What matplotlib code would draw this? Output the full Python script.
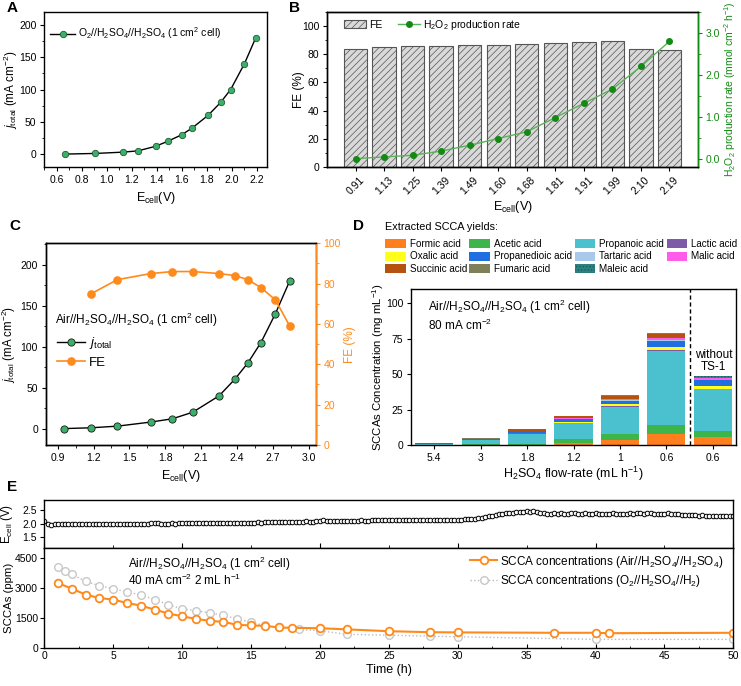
import matplotlib
matplotlib.use('Agg')
import matplotlib.pyplot as plt
import numpy as np
from matplotlib.ticker import MultipleLocator, FormatStrFormatter

plt.rcParams['font.family'] = ['Liberation Sans', 'DejaVu Sans']
plt.rcParams['mathtext.fontset'] = 'custom'
plt.rcParams['mathtext.rm'] = 'Liberation Sans'
plt.rcParams['mathtext.it'] = 'Liberation Sans:italic'
plt.rcParams['mathtext.bf'] = 'Liberation Sans:bold'
plt.rcParams['hatch.linewidth'] = 0.5
plt.rcParams['axes.linewidth'] = 1.0
plt.rcParams['xtick.labelsize'] = 7.5
plt.rcParams['ytick.labelsize'] = 7.5
plt.rcParams['axes.labelsize'] = 9
for ax_ in ('xtick', 'ytick'):
    plt.rcParams[ax_ + '.major.size'] = 3
    plt.rcParams[ax_ + '.minor.size'] = 1.8
    plt.rcParams[ax_ + '.major.pad'] = 2.5

# ---------------- data ----------------
# Panel A
a_ecell = [0.67, 0.91, 1.13, 1.25, 1.39, 1.49, 1.60, 1.68, 1.81, 1.91, 1.99, 2.10, 2.19]
a_j = [0, 1, 3, 5, 12, 20, 30, 40, 60, 80, 100, 140, 180]

# Panel B
b_cat = ['0.91', '1.13', '1.25', '1.39', '1.49', '1.60', '1.68', '1.81', '1.91', '1.99', '2.10', '2.19']
b_fe = [84, 85, 85.7, 85.7, 86.4, 86.5, 87.5, 87.8, 88.5, 89.2, 84, 83]
b_rate = [0.0, 0.04, 0.08, 0.18, 0.32, 0.48, 0.64, 0.98, 1.32, 1.66, 2.2, 2.8]

# Panel C
c_ecell = [0.95, 1.18, 1.40, 1.68, 1.86, 2.03, 2.25, 2.38, 2.49, 2.60, 2.72, 2.84]
c_j = [0, 1, 3, 8, 12, 20, 40, 60, 80, 105, 140, 180]
c_fe_ecell = [1.18, 1.40, 1.68, 1.86, 2.03, 2.25, 2.38, 2.49, 2.60, 2.72, 2.84]
c_fe = [75, 82, 85, 86, 86, 85, 84, 82, 78, 72, 59]

# Panel D
d_flow = ['5.4', '3', '1.8', '1.2', '1', '0.6', '0.6']
formic = [0.05, 0.2, 0.3, 1.2, 3.5, 8.0, 5.9]
acetic = [0.1, 0.4, 0.2, 3.3, 4.3, 6.3, 4.1]
propanoic = [0.8, 2.6, 7.5, 11.0, 19.2, 51.8, 29.3]
lactic = [0.05, 0.1, 0.2, 0.3, 0.5, 1.0, 0.3]
oxalic = [0.05, 0.2, 0.4, 0.7, 1.2, 2.2, 1.9]
propanedioic = [0.15, 0.5, 1.0, 1.8, 2.5, 4.0, 4.3]
tartaric = [0.05, 0.1, 0.2, 0.3, 0.4, 0.5, 0.2]
malic = [0.05, 0.1, 0.2, 0.3, 0.5, 1.8, 1.2]
succinic = [0.1, 0.3, 1.2, 1.2, 2.8, 3.0, 0.8]
fumaric = [0.05, 0.1, 0.3, 0.3, 0.6, 0.4, 0.3]
maleic = [0.02, 0.05, 0.1, 0.1, 0.1, 0.2, 0.1]
acid_names = ['Formic acid', 'Acetic acid', 'Propanoic acid', 'Lactic acid',
              'Oxalic acid', 'Propanedioic acid', 'Tartaric acid', 'Malic acid',
              'Succinic acid', 'Fumaric acid', 'Maleic acid']
acid_colors = ['#FF7F1E', '#3DB54A', '#4BC0CF', '#7E5BA6', '#FFFF1A', '#1F6FE0',
               '#A9C9EA', '#FF5CEB', '#B4520E', '#7F7F5A', '#2C8080']

# Panel E
e_step = 0.25
e_ecell = [
    2.10, 1.97, 1.96, 1.97, 1.97, 1.97, 1.98, 1.97, 1.98, 1.98, 1.98, 1.97, 1.98, 1.98, 1.98, 1.98, 1.99, 1.98, 1.98, 1.99,
    1.99, 1.99, 1.99, 1.99, 1.99, 1.99, 2.00, 1.99, 1.99, 2.00, 2.00, 2.01, 2.02, 2.01, 2.00, 2.00, 2.00, 2.01, 2.00, 2.01,
    2.01, 2.01, 2.02, 2.01, 2.02, 2.02, 2.03, 2.02, 2.02, 2.02, 2.03, 2.03, 2.03, 2.02, 2.03, 2.04, 2.03, 2.03, 2.04, 2.04,
    2.04, 2.04, 2.05, 2.04, 2.05, 2.06, 2.05, 2.05, 2.07, 2.06, 2.05, 2.05, 2.06, 2.06, 2.07, 2.07, 2.08, 2.07, 2.07, 2.08,
    2.10, 2.12, 2.10, 2.09, 2.09, 2.10, 2.10, 2.11, 2.11, 2.10, 2.11, 2.11, 2.12, 2.11, 2.11, 2.12, 2.12, 2.12, 2.13, 2.12,
    2.14, 2.15, 2.13, 2.13, 2.13, 2.13, 2.14, 2.14, 2.13, 2.14, 2.14, 2.14, 2.15, 2.14, 2.14, 2.15, 2.15, 2.15, 2.14, 2.15,
    2.15, 2.15, 2.16, 2.16, 2.17, 2.18, 2.20, 2.22, 2.25, 2.28, 2.30, 2.33, 2.35, 2.36, 2.38, 2.40, 2.41, 2.43, 2.44, 2.45,
    2.46, 2.43, 2.47, 2.42, 2.40, 2.38, 2.37, 2.37, 2.38, 2.37, 2.38, 2.37, 2.37, 2.38, 2.38, 2.37, 2.37, 2.38, 2.37, 2.37,
    2.38, 2.37, 2.37, 2.36, 2.37, 2.38, 2.37, 2.36, 2.37, 2.37, 2.38, 2.37, 2.38, 2.39, 2.37, 2.40, 2.38, 2.37, 2.36, 2.37,
    2.36, 2.38, 2.36, 2.35, 2.34, 2.33, 2.32, 2.33, 2.32, 2.31, 2.30, 2.31, 2.30, 2.29, 2.30, 2.29, 2.29, 2.28, 2.28, 2.28,
    2.27]
e_time = [i * e_step for i in range(len(e_ecell))]

air_time = [1, 2, 3, 4, 5, 6, 7, 8, 9, 10, 11, 12, 13, 14, 15, 16, 17, 18, 20, 22, 25, 28, 30, 37, 40, 41, 50]
air_scca = [3250, 2970, 2670, 2500, 2420, 2250, 2120, 1920, 1720, 1580, 1450, 1350, 1300, 1150, 1120,
            1100, 1020, 1000, 980, 920, 830, 780, 770, 750, 750, 730, 750]
o2_time = [1, 1.5, 2, 3, 4, 5, 6, 7, 8, 9, 10, 11, 12, 13, 14, 15, 16, 17, 18.5, 20, 22, 25, 28, 30, 40, 50]
o2_scca = [4080, 3880, 3700, 3330, 3120, 2970, 2800, 2670, 2420, 2170, 1950, 1870, 1750, 1630, 1450,
           1280, 1120, 1020, 920, 850, 670, 630, 580, 550, 420, 420]

# ---------------- figure ----------------
W, H = 741, 686
fig = plt.figure(figsize=(W / 100, H / 100), dpi=100)


def ax_px(l, t, r, b):
    return fig.add_axes([l / W, 1 - b / H, (r - l) / W, (b - t) / H])


def ftext(x, y, s, **kw):
    kw.setdefault('va', 'center')
    return fig.text(x / W, 1 - y / H, s, **kw)


def ylab_left(ax, s, right_px, ax_left, ax_w, **kw):
    ax.set_ylabel(s, **kw)
    ax.yaxis.set_label_coords((right_px - ax_left) / ax_w, 0.5)


GREEN_M = '#3DAF6A'
ORANGE = '#FF8A1C'
BGREEN = '#138A13'

for lab, (x, y) in zip('ABCDE', [(12, 8), (295, 8), (15, 226), (359, 226), (12, 487)]):
    ftext(x, y, lab, fontsize=11, fontweight='bold', ha='center')

# ---- Panel A ----
axA = ax_px(44, 12, 267, 167)
axA.plot(a_ecell, a_j, '-', color='black', lw=1, marker='o', ms=4.6, mfc=GREEN_M, mec='#1D5A33', mew=0.6,
         label='O$_2$//H$_2$SO$_4$//H$_2$SO$_4$ (1 cm$^2$ cell)')
axA.set_xlim(0.5, 2.28)
axA.set_ylim(-20, 220)
axA.xaxis.set_major_locator(MultipleLocator(0.2))
axA.xaxis.set_minor_locator(MultipleLocator(0.1))
axA.yaxis.set_major_locator(MultipleLocator(50))
axA.yaxis.set_minor_locator(MultipleLocator(25))
axA.set_xlabel('E$_{\\rm cell}$(V)')
ylab_left(axA, '$j_{\\rm total}$ (mA cm$^{-2}$)', 20, 44, 223, fontsize=8.5)
axA.legend(loc='center left', bbox_to_anchor=(0.027, 0.862), frameon=False, borderpad=0, borderaxespad=0,
           handlelength=2.4, handletextpad=0.25, fontsize=7.5)

# ---- Panel B ----
axB = ax_px(327, 12, 698, 167)
xb = np.arange(len(b_cat))
axB.bar(xb, b_fe, width=0.82, color='#D9D9D9', edgecolor='#555555', hatch='/////', lw=0.8, label='FE')
axB.set_xlim(-1, 12)
axB.set_ylim(0, 110)
axB.set_xticks(xb)
axB.set_xticklabels(b_cat, rotation=45)
axB.yaxis.set_major_locator(MultipleLocator(20))
axB.yaxis.set_minor_locator(MultipleLocator(10))
ylab_left(axB, 'FE (%)', 305, 327, 371, fontsize=8.5)
axB.set_xlabel('E$_{\\rm cell}$(V)', labelpad=2)
axB2 = axB.twinx()
axB2.plot(xb, b_rate, '-', color='#55B455', lw=1, marker='o', ms=4, mfc=BGREEN, mec=BGREEN,
          label='H$_2$O$_2$ production rate')
axB2.set_ylim(-0.2, 3.5)
axB2.yaxis.set_major_locator(MultipleLocator(1.0))
axB2.yaxis.set_minor_locator(MultipleLocator(0.5))
axB2.yaxis.set_major_formatter(FormatStrFormatter('%.1f'))
axB2.spines['right'].set_color(BGREEN)
axB2.tick_params(axis='y', which='both', colors=BGREEN)
axB2.set_ylabel('H$_2$O$_2$ production rate (mmol cm$^{-2}$ h$^{-1}$)', color=BGREEN, fontsize=7.5)
axB2.yaxis.set_label_coords((722 - 327) / 371, 0.5)
h1, l1 = axB.get_legend_handles_labels()
h2, l2 = axB2.get_legend_handles_labels()
axB2.legend(h1 + h2, l1 + l2, ncol=2, loc='center left', bbox_to_anchor=(0.046, 0.918), frameon=False,
            borderpad=0, borderaxespad=0, handlelength=2.1, handleheight=0.9, handletextpad=0.3,
            columnspacing=1.5, fontsize=7.5)

# ---- Panel C ----
axC = ax_px(45.7, 243.3, 316, 445)
axC.plot(c_ecell, c_j, '-', color='black', lw=1, marker='o', ms=5.2, mfc=GREEN_M, mec='#1a1a1a', mew=0.6,
         label='$j_{\\rm total}$')
axC.set_xlim(0.8, 3.06)
axC.set_ylim(-20, 226)
axC.xaxis.set_minor_locator(MultipleLocator(0.15))
axC.yaxis.set_major_locator(MultipleLocator(50))
axC.yaxis.set_minor_locator(MultipleLocator(25))
axC.set_xticks([0.9, 1.2, 1.5, 1.8, 2.1, 2.4, 2.7, 3.0])
axC.set_xlabel('E$_{\\rm cell}$(V)')
ylab_left(axC, '$j_{\\rm total}$ (mA cm$^{-2}$)', 18, 45.7, 270.3, fontsize=8.3)
axC2 = axC.twinx()
axC2.plot(c_fe_ecell, c_fe, '-', color=ORANGE, lw=1.2, marker='o', ms=5.2, mfc=ORANGE, mec=ORANGE, label='FE')
axC2.set_ylim(0, 100)
axC2.yaxis.set_major_locator(MultipleLocator(20))
axC2.yaxis.set_minor_locator(MultipleLocator(10))
axC2.spines['right'].set_color(ORANGE)
axC2.tick_params(axis='y', which='both', colors=ORANGE)
axC2.set_ylabel('FE (%)', color=ORANGE, fontsize=8.5)
axC2.yaxis.set_label_coords((344 - 45.7) / 270.3, 0.5)
ftext(55, 320, 'Air//H$_2$SO$_4$//H$_2$SO$_4$ (1 cm$^2$ cell)', fontsize=8.5)
hc1, lc1 = axC.get_legend_handles_labels()
hc2, lc2 = axC2.get_legend_handles_labels()
axC2.legend(hc1 + hc2, lc1 + lc2, loc='center left', bbox_to_anchor=(0.042, 0.46), frameon=False,
            borderpad=0, borderaxespad=0, handlelength=2.1, handletextpad=0.3, labelspacing=0.4, fontsize=9.5)

# ---- Panel D ----
axD = ax_px(411, 289, 736, 445)
xd = np.arange(len(d_flow))
acid_vals = [formic, acetic, propanoic, lactic, oxalic, propanedioic, tartaric, malic, succinic, fumaric, maleic]
bottom = np.zeros(len(d_flow))
d_handles = []
for name, vals, col in zip(acid_names, acid_vals, acid_colors):
    if name == 'Maleic acid':
        b = axD.bar(xd, vals, width=0.82, bottom=bottom, color=col, edgecolor='#145A5A', lw=0, hatch='.....',
                    label=name)
    else:
        b = axD.bar(xd, vals, width=0.82, bottom=bottom, color=col, edgecolor='none', label=name)
    d_handles.append(b)
    bottom += np.array(vals)
axD.axvline(5.5, color='black', ls=(0, (3, 2)), lw=1)
axD.set_xlim(-0.5, 6.5)
axD.set_ylim(0, 110)
axD.set_xticks(xd)
axD.set_xticklabels(d_flow)
axD.yaxis.set_major_locator(MultipleLocator(25))
axD.set_xlabel('H$_2$SO$_4$ flow-rate (mL h$^{-1}$)', labelpad=1.5)
ylab_left(axD, 'SCCAs Concentration (mg mL$^{-1}$)', 386, 411, 325, fontsize=8.2)
ftext(428, 306.7, 'Air//H$_2$SO$_4$//H$_2$SO$_4$ (1 cm$^2$ cell)', fontsize=8.5)
ftext(428, 325, '80 mA cm$^{-2}$', fontsize=8.5)
ftext(713.3, 361, 'without\nTS-1', fontsize=8.5, ha='center', linespacing=1.0)
ftext(385, 227, 'Extracted SCCA yields:', fontsize=7.8)
order = [0, 4, 8, 1, 5, 9, 2, 6, 10, 3, 7]
fig.legend([d_handles[i] for i in order], [acid_names[i] for i in order], ncol=4, loc='upper left',
           bbox_to_anchor=(385 / W, 1 - 239 / H), frameon=False,
           fontsize=7.1, handlelength=2.1, handleheight=1.05, handletextpad=0.4,
           columnspacing=0.25, labelspacing=0.25, borderpad=0, borderaxespad=0)

# ---- Panel E ----
axE1 = ax_px(44.3, 500, 733.3, 548.3)
axE1.plot(e_time, e_ecell, 'o', ms=3.3, mfc='white', mec='black', mew=0.7, ls='none')
axE1.set_xlim(0, 50)
axE1.set_ylim(1.08, 2.88)
axE1.set_yticks([1.5, 2.0, 2.5])
axE1.xaxis.set_major_locator(MultipleLocator(10))
axE1.xaxis.set_minor_locator(MultipleLocator(5))
axE1.tick_params(axis='x', which='major', direction='inout', length=7, labelbottom=False)
axE1.tick_params(axis='x', which='minor', direction='inout', length=4)
ylab_left(axE1, 'E$_{\\rm cell}$ (V)', 15, 44.3, 689, fontsize=8.3)

axE2 = ax_px(44.3, 548.3, 733.3, 647.7)
axE2.plot(o2_time, o2_scca, ls=':', color='#BBBBBB', lw=1, marker='o', ms=5.5, mfc='white', mec='#C8C8C8',
          mew=1.0, label='SCCA concentrations (O$_2$//H$_2$SO$_4$//H$_2$)')
axE2.plot(air_time, air_scca, '-', color=ORANGE, lw=1.5, marker='o', ms=5.5, mfc='white', mec=ORANGE,
          mew=1.3, label='SCCA concentrations (Air//H$_2$SO$_4$//H$_2$SO$_4$)')
axE2.set_xlim(0, 50)
axE2.set_ylim(0, 5000)
axE2.set_yticks([0, 1500, 3000, 4500])
axE2.xaxis.set_major_locator(MultipleLocator(5))
axE2.xaxis.set_minor_locator(MultipleLocator(2.5))
axE2.tick_params(axis='x', which='both', direction='in')
axE2.tick_params(axis='y', which='both', pad=1.5)
axE2.set_xlabel('Time (h)', labelpad=2)
ylab_left(axE2, 'SCCAs (ppm)', 14, 44.3, 689, fontsize=8.2)
he, le = axE2.get_legend_handles_labels()
axE2.legend(he[::-1], le[::-1], loc='center left', bbox_to_anchor=(0.618, 0.768), frameon=False,
            borderpad=0, borderaxespad=0, handlelength=2.3, handletextpad=0.25, labelspacing=0.3, fontsize=8.5)
ftext(128, 564, 'Air//H$_2$SO$_4$//H$_2$SO$_4$ (1 cm$^2$ cell)', fontsize=8.5)
ftext(128, 580, '40 mA cm$^{-2}$ 2 mL h$^{-1}$', fontsize=8.5)

fig.savefig('out.png', dpi=100)
